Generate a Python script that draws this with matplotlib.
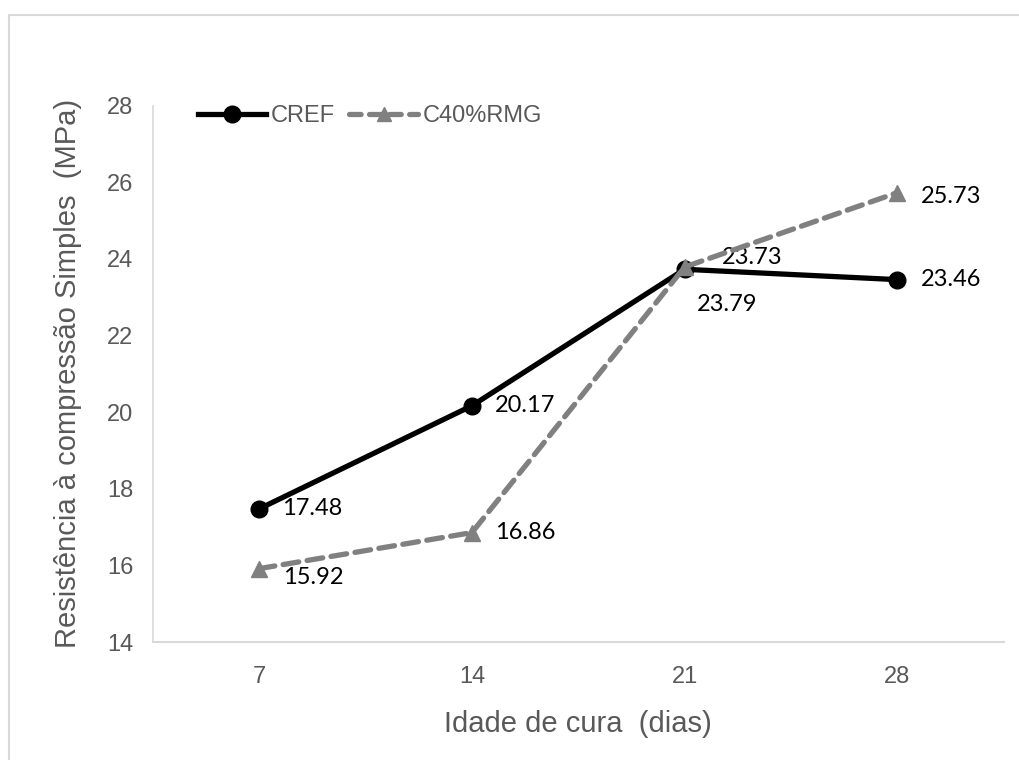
import matplotlib.pyplot as plt
from matplotlib.lines import Line2D
from matplotlib.patches import Rectangle

# Resistência à compressão por idade de cura
idades = ['7', '14', '21', '28']
cref = [17.48, 20.17, 23.73, 23.46]
c40 = [15.92, 16.86, 23.79, 25.73]

# deslocamento dos rótulos de dados (pixels)
cref_offsets = [(23, 0), (23, 0), (37, 12), (24, 0)]
c40_offsets = [(24, -9), (23, 0), (12, -38), (24, -4)]

plt.rcParams['font.family'] = ['Liberation Sans', 'DejaVu Sans']
cinza_texto = '#595959'

fig = plt.figure(figsize=(10.19, 7.6), dpi=100)
ax = fig.add_axes([0.150, 0.155, 0.835, 0.706])

x = list(range(len(idades)))
ax.plot(x, cref, color='black', lw=3.8, marker='o', ms=12,
        solid_capstyle='round', label='CREF', zorder=3)
ax.plot(x, c40, color='#808080', lw=3.8, ls=(0, (3, 1.6)), marker='^',
        ms=12, dash_capstyle='round', label='C40%RMG', zorder=4)

for xi, v, off in zip(x, cref, cref_offsets):
    ax.annotate(f'{v:.2f}', (xi, v), xytext=off, textcoords='offset pixels',
                ha='left', va='center', fontsize=17, family='Lato', color='black')
for xi, v, off in zip(x, c40, c40_offsets):
    ax.annotate(f'{v:.2f}', (xi, v), xytext=off, textcoords='offset pixels',
                ha='left', va='center', fontsize=17, family='Lato', color='black')

ax.set_xlim(-0.5, 3.5)
ax.set_ylim(14, 28)
ax.set_yticks(range(14, 29, 2))
ax.set_xticks(x)
ax.set_xticklabels(idades)

for s in ['top', 'right']:
    ax.spines[s].set_visible(False)
ax.spines['left'].set_color('#d9d9d9')
ax.spines['bottom'].set_color('#d9d9d9')
ax.spines['left'].set_linewidth(1.2)
ax.spines['bottom'].set_linewidth(1.5)
ax.tick_params(length=0, labelsize=17, colors=cinza_texto)
ax.tick_params(axis='x', pad=17)
ax.tick_params(axis='y', pad=14)

ax.set_xlabel('Idade de cura  (dias)', fontsize=21, color=cinza_texto, labelpad=16)
ax.set_ylabel('Resistência à compressão Simples  (MPa)', fontsize=21,
              color=cinza_texto, labelpad=18)

handles = [
    Line2D([], [], color='black', lw=3.8, marker='o', ms=12),
    Line2D([], [], color='#808080', lw=3.8, ls=(0, (2.2, 1.6)), marker='^', ms=10,
           dash_capstyle='round'),
]
leg = ax.legend(handles, ['CREF', 'C40%RMG'], loc='upper left', ncol=2,
                frameon=False, fontsize=17, handlelength=2.9, handletextpad=0.2,
                columnspacing=0.6, bbox_to_anchor=(0.028, 1.04))
for t in leg.get_texts():
    t.set_color(cinza_texto)

# borda externa do gráfico
fig.patches.append(Rectangle((9 / 1019, -0.05), 1.2, 1 - 15 / 760 + 0.05,
                             transform=fig.transFigure, fill=False,
                             edgecolor='#d9d9d9', lw=1.5))

fig.savefig('out.png', dpi=100)
